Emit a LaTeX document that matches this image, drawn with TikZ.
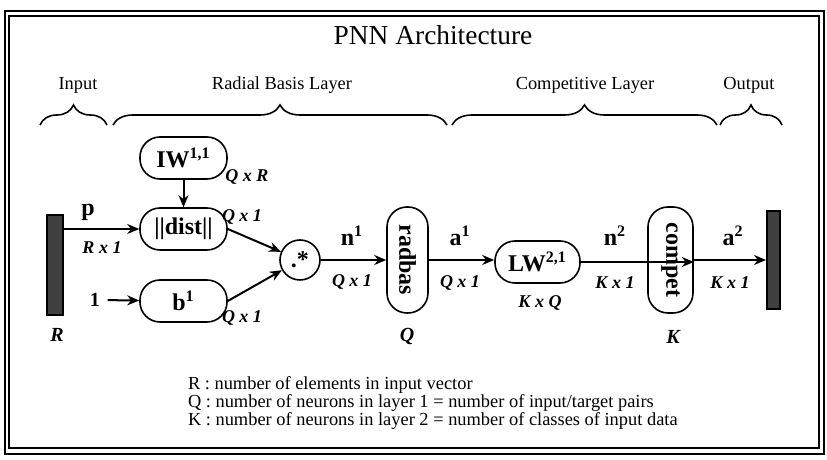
\documentclass[tikz,border=0pt]{standalone}
\usepackage{fontspec}
\setmainfont{Liberation Serif}
\usetikzlibrary{positioning,arrows.meta,decorations.pathreplacing}

\begin{document}
\begin{tikzpicture}[x=0.5pt,y=0.5pt,
      blk/.style={draw,line width=0.8pt,rounded corners=10pt,inner sep=0pt,
        font=\fontsize{12}{12}\selectfont\bfseries,minimum width=43.5pt,minimum height=21pt},
      dim/.style={font=\fontsize{9}{9}\selectfont\bfseries\itshape},
      sig/.style={font=\fontsize{12}{12}\selectfont\bfseries},
      lay/.style={font=\fontsize{9.2}{9.2}\selectfont},
      brc/.style={decorate,decoration={brace,amplitude=10pt},line width=0.8pt},
      bar/.style={draw,fill=black!75,inner sep=0pt},
      >={Stealth[length=6pt,width=5pt]},line width=1pt]
    \useasboundingbox (0,0) rectangle (827,460);
    % double frame
    \draw[line width=0.9pt] (5,6) rectangle (824,449);
    \draw[line width=0.8pt] (9,12) rectangle (819,444);
    \node[font=\fontsize{13.7}{13.7}\selectfont] (title) at (433,425) {PNN Architecture};
    % layer labels and braces
    \node[lay] (lin)  at (78,375)  {Input};
    \node[lay] (lrb)  at (282,375) {Radial Basis Layer};
    \node[lay] (lcl)  at (585,375) {Competitive Layer};
    \node[lay] (lout) at (749,375) {Output};
    \draw[brc] (40,335)  -- (107,335);
    \draw[brc] (113,335) -- (447,335);
    \draw[brc] (452,335) -- (717,335);
    \draw[brc] (720,335) -- (782,335);
    % blocks
    \node[bar,minimum width=8pt,minimum height=50pt] (inp) at (55,195) {};
    \node[blk] (iw)   at (183.5,302) {IW\textsuperscript{1,1}};
    \node[blk] (dist) at (183.5,231) {||dist||};
    \node[blk] (b)    at (183.5,159) {b\textsuperscript{1}};
    \node[draw,circle,line width=0.8pt,minimum size=20pt,inner sep=0pt,
      font=\fontsize{12}{12}\selectfont\bfseries] (mul) at (300,200) {.*};
    \node[blk,minimum width=53pt,minimum height=20.5pt,rotate=-90] (rb) at (407.5,200) {radbas};
    \node[blk,minimum width=42.5pt] (lw) at (537.5,198) {LW\textsuperscript{2,1}};
    \node[blk,minimum width=53pt,minimum height=22.5pt,rotate=-90] (cp) at (670.5,200) {compet};
    \node[bar,minimum width=6.5pt,minimum height=49pt] (out) at (773.5,200) {};
    \node[sig,font=\fontsize{10}{10}\selectfont\bfseries] (one) at (95,160) {1};
    % connectors
    \draw[->] (iw) -- (dist);
    \draw[->] (inp.east |- dist) -- (dist);
    \draw[->] (one) -- (b);
    \draw[->] (dist.east) -- (mul);
    \draw[->] (b.east) -- (mul);
    \draw[->] (mul) -- (rb);
    \draw[->] (rb) -- (rb -| lw.west);
    \draw[->] (lw) -- (lw -| cp.north);
    \draw[->] (cp) -- (out);
    % signal and size labels
    \node[sig] (p)  at (88,248)  {p};
    \node[sig] (n1) at (352,224) {n\textsuperscript{1}};
    \node[sig] (a1) at (460,224) {a\textsuperscript{1}};
    \node[sig] (n2) at (615,224) {n\textsuperscript{2}};
    \node[sig] (a2) at (733,224) {a\textsuperscript{2}};
    \node[dim] at (102,212) {R x 1};
    \node[dim] at (247,283) {Q x R};
    \node[dim] at (242,243) {Q x 1};
    \node[dim] at (242,142) {Q x 1};
    \node[dim] at (352,178) {Q x 1};
    \node[dim] at (460,177) {Q x 1};
    \node[dim] at (540,157) {K x Q};
    \node[dim] at (615,177) {K x 1};
    \node[dim] at (730,177) {K x 1};
    \node[dim,font=\fontsize{10}{10}\selectfont\bfseries\itshape] at (57,125)  {R};
    \node[dim,font=\fontsize{10}{10}\selectfont\bfseries\itshape] at (407,123) {Q};
    \node[dim,font=\fontsize{10}{10}\selectfont\bfseries\itshape] at (673,123) {K};
    % legend
    \node[lay,anchor=west,inner sep=0pt] (kr) at (187,75) {R : number of elements in input vector};
    \node[lay,anchor=west,inner sep=0pt] (kq) at (187,57) {Q : number of neurons in layer 1 = number of input/target pairs};
    \node[lay,anchor=west,inner sep=0pt] (kk) at (187,39) {K : number of neurons in layer 2 = number of classes of input data};
  \end{tikzpicture}
\end{document}
